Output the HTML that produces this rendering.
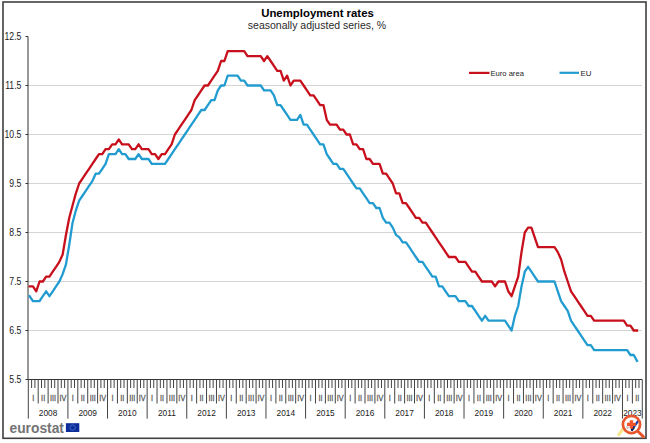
<!DOCTYPE html>
<html><head><meta charset="utf-8"><style>
html,body{margin:0;padding:0;background:#fff;width:650px;height:443px;overflow:hidden;}
svg{display:block;font-family:"Liberation Sans",sans-serif;}
</style></head><body>
<svg width="650" height="443" viewBox="0 0 650 443">
<rect x="3" y="2" width="643" height="436.3" fill="none" stroke="#404040" stroke-width="1.6"/>
<text x="317.5" y="17" text-anchor="middle" font-weight="bold" font-size="11.4" fill="#000">Unemployment rates</text>
<text x="317" y="29" text-anchor="middle" font-size="10.5" fill="#2a2a2a">seasonally adjusted series, %</text>
<line x1="28" y1="330.5" x2="642" y2="330.5" stroke="#d4d4d4" stroke-width="1"/>
<line x1="28" y1="281.5" x2="642" y2="281.5" stroke="#d4d4d4" stroke-width="1"/>
<line x1="28" y1="232.5" x2="642" y2="232.5" stroke="#d4d4d4" stroke-width="1"/>
<line x1="28" y1="183.5" x2="642" y2="183.5" stroke="#d4d4d4" stroke-width="1"/>
<line x1="28" y1="134.5" x2="642" y2="134.5" stroke="#d4d4d4" stroke-width="1"/>
<line x1="28" y1="85.5" x2="642" y2="85.5" stroke="#d4d4d4" stroke-width="1"/>
<line x1="25.5" y1="379.5" x2="28" y2="379.5" stroke="#333" stroke-width="1"/>
<text transform="translate(21.4,382.60) scale(0.86,1)" text-anchor="end" font-size="10.1" fill="#1a1a1a">5.5</text>
<line x1="25.5" y1="330.5" x2="28" y2="330.5" stroke="#333" stroke-width="1"/>
<text transform="translate(21.4,333.60) scale(0.86,1)" text-anchor="end" font-size="10.1" fill="#1a1a1a">6.5</text>
<line x1="25.5" y1="281.5" x2="28" y2="281.5" stroke="#333" stroke-width="1"/>
<text transform="translate(21.4,284.60) scale(0.86,1)" text-anchor="end" font-size="10.1" fill="#1a1a1a">7.5</text>
<line x1="25.5" y1="232.5" x2="28" y2="232.5" stroke="#333" stroke-width="1"/>
<text transform="translate(21.4,235.60) scale(0.86,1)" text-anchor="end" font-size="10.1" fill="#1a1a1a">8.5</text>
<line x1="25.5" y1="183.5" x2="28" y2="183.5" stroke="#333" stroke-width="1"/>
<text transform="translate(21.4,186.60) scale(0.86,1)" text-anchor="end" font-size="10.1" fill="#1a1a1a">9.5</text>
<line x1="25.5" y1="134.5" x2="28" y2="134.5" stroke="#333" stroke-width="1"/>
<text transform="translate(21.4,137.60) scale(0.86,1)" text-anchor="end" font-size="10.1" fill="#1a1a1a">10.5</text>
<line x1="25.5" y1="85.5" x2="28" y2="85.5" stroke="#333" stroke-width="1"/>
<text transform="translate(21.4,88.60) scale(0.86,1)" text-anchor="end" font-size="10.1" fill="#1a1a1a">11.5</text>
<line x1="25.5" y1="36.5" x2="28" y2="36.5" stroke="#333" stroke-width="1"/>
<text transform="translate(21.4,39.60) scale(0.86,1)" text-anchor="end" font-size="10.1" fill="#1a1a1a">12.5</text>
<line x1="28" y1="36.5" x2="28" y2="379.5" stroke="#333" stroke-width="1"/>
<line x1="28" y1="379.5" x2="642.2" y2="379.5" stroke="#333" stroke-width="1"/>
<line x1="28.30" y1="379.5" x2="28.30" y2="418.6" stroke="#444" stroke-width="1"/>
<line x1="31.60" y1="379.5" x2="31.60" y2="388" stroke="#444" stroke-width="1"/>
<line x1="34.90" y1="379.5" x2="34.90" y2="388" stroke="#444" stroke-width="1"/>
<line x1="38.20" y1="379.5" x2="38.20" y2="403.5" stroke="#444" stroke-width="1"/>
<line x1="41.50" y1="379.5" x2="41.50" y2="388" stroke="#444" stroke-width="1"/>
<line x1="44.81" y1="379.5" x2="44.81" y2="388" stroke="#444" stroke-width="1"/>
<line x1="48.11" y1="379.5" x2="48.11" y2="403.5" stroke="#444" stroke-width="1"/>
<line x1="51.41" y1="379.5" x2="51.41" y2="388" stroke="#444" stroke-width="1"/>
<line x1="54.71" y1="379.5" x2="54.71" y2="388" stroke="#444" stroke-width="1"/>
<line x1="58.01" y1="379.5" x2="58.01" y2="403.5" stroke="#444" stroke-width="1"/>
<line x1="61.31" y1="379.5" x2="61.31" y2="388" stroke="#444" stroke-width="1"/>
<line x1="64.61" y1="379.5" x2="64.61" y2="388" stroke="#444" stroke-width="1"/>
<line x1="67.91" y1="379.5" x2="67.91" y2="418.6" stroke="#444" stroke-width="1"/>
<line x1="71.21" y1="379.5" x2="71.21" y2="388" stroke="#444" stroke-width="1"/>
<line x1="74.51" y1="379.5" x2="74.51" y2="388" stroke="#444" stroke-width="1"/>
<line x1="77.81" y1="379.5" x2="77.81" y2="403.5" stroke="#444" stroke-width="1"/>
<line x1="81.12" y1="379.5" x2="81.12" y2="388" stroke="#444" stroke-width="1"/>
<line x1="84.42" y1="379.5" x2="84.42" y2="388" stroke="#444" stroke-width="1"/>
<line x1="87.72" y1="379.5" x2="87.72" y2="403.5" stroke="#444" stroke-width="1"/>
<line x1="91.02" y1="379.5" x2="91.02" y2="388" stroke="#444" stroke-width="1"/>
<line x1="94.32" y1="379.5" x2="94.32" y2="388" stroke="#444" stroke-width="1"/>
<line x1="97.62" y1="379.5" x2="97.62" y2="403.5" stroke="#444" stroke-width="1"/>
<line x1="100.92" y1="379.5" x2="100.92" y2="388" stroke="#444" stroke-width="1"/>
<line x1="104.22" y1="379.5" x2="104.22" y2="388" stroke="#444" stroke-width="1"/>
<line x1="107.52" y1="379.5" x2="107.52" y2="418.6" stroke="#444" stroke-width="1"/>
<line x1="110.83" y1="379.5" x2="110.83" y2="388" stroke="#444" stroke-width="1"/>
<line x1="114.13" y1="379.5" x2="114.13" y2="388" stroke="#444" stroke-width="1"/>
<line x1="117.43" y1="379.5" x2="117.43" y2="403.5" stroke="#444" stroke-width="1"/>
<line x1="120.73" y1="379.5" x2="120.73" y2="388" stroke="#444" stroke-width="1"/>
<line x1="124.03" y1="379.5" x2="124.03" y2="388" stroke="#444" stroke-width="1"/>
<line x1="127.33" y1="379.5" x2="127.33" y2="403.5" stroke="#444" stroke-width="1"/>
<line x1="130.63" y1="379.5" x2="130.63" y2="388" stroke="#444" stroke-width="1"/>
<line x1="133.93" y1="379.5" x2="133.93" y2="388" stroke="#444" stroke-width="1"/>
<line x1="137.23" y1="379.5" x2="137.23" y2="403.5" stroke="#444" stroke-width="1"/>
<line x1="140.53" y1="379.5" x2="140.53" y2="388" stroke="#444" stroke-width="1"/>
<line x1="143.84" y1="379.5" x2="143.84" y2="388" stroke="#444" stroke-width="1"/>
<line x1="147.14" y1="379.5" x2="147.14" y2="418.6" stroke="#444" stroke-width="1"/>
<line x1="150.44" y1="379.5" x2="150.44" y2="388" stroke="#444" stroke-width="1"/>
<line x1="153.74" y1="379.5" x2="153.74" y2="388" stroke="#444" stroke-width="1"/>
<line x1="157.04" y1="379.5" x2="157.04" y2="403.5" stroke="#444" stroke-width="1"/>
<line x1="160.34" y1="379.5" x2="160.34" y2="388" stroke="#444" stroke-width="1"/>
<line x1="163.64" y1="379.5" x2="163.64" y2="388" stroke="#444" stroke-width="1"/>
<line x1="166.94" y1="379.5" x2="166.94" y2="403.5" stroke="#444" stroke-width="1"/>
<line x1="170.24" y1="379.5" x2="170.24" y2="388" stroke="#444" stroke-width="1"/>
<line x1="173.54" y1="379.5" x2="173.54" y2="388" stroke="#444" stroke-width="1"/>
<line x1="176.85" y1="379.5" x2="176.85" y2="403.5" stroke="#444" stroke-width="1"/>
<line x1="180.15" y1="379.5" x2="180.15" y2="388" stroke="#444" stroke-width="1"/>
<line x1="183.45" y1="379.5" x2="183.45" y2="388" stroke="#444" stroke-width="1"/>
<line x1="186.75" y1="379.5" x2="186.75" y2="418.6" stroke="#444" stroke-width="1"/>
<line x1="190.05" y1="379.5" x2="190.05" y2="388" stroke="#444" stroke-width="1"/>
<line x1="193.35" y1="379.5" x2="193.35" y2="388" stroke="#444" stroke-width="1"/>
<line x1="196.65" y1="379.5" x2="196.65" y2="403.5" stroke="#444" stroke-width="1"/>
<line x1="199.95" y1="379.5" x2="199.95" y2="388" stroke="#444" stroke-width="1"/>
<line x1="203.25" y1="379.5" x2="203.25" y2="388" stroke="#444" stroke-width="1"/>
<line x1="206.55" y1="379.5" x2="206.55" y2="403.5" stroke="#444" stroke-width="1"/>
<line x1="209.86" y1="379.5" x2="209.86" y2="388" stroke="#444" stroke-width="1"/>
<line x1="213.16" y1="379.5" x2="213.16" y2="388" stroke="#444" stroke-width="1"/>
<line x1="216.46" y1="379.5" x2="216.46" y2="403.5" stroke="#444" stroke-width="1"/>
<line x1="219.76" y1="379.5" x2="219.76" y2="388" stroke="#444" stroke-width="1"/>
<line x1="223.06" y1="379.5" x2="223.06" y2="388" stroke="#444" stroke-width="1"/>
<line x1="226.36" y1="379.5" x2="226.36" y2="418.6" stroke="#444" stroke-width="1"/>
<line x1="229.66" y1="379.5" x2="229.66" y2="388" stroke="#444" stroke-width="1"/>
<line x1="232.96" y1="379.5" x2="232.96" y2="388" stroke="#444" stroke-width="1"/>
<line x1="236.26" y1="379.5" x2="236.26" y2="403.5" stroke="#444" stroke-width="1"/>
<line x1="239.56" y1="379.5" x2="239.56" y2="388" stroke="#444" stroke-width="1"/>
<line x1="242.87" y1="379.5" x2="242.87" y2="388" stroke="#444" stroke-width="1"/>
<line x1="246.17" y1="379.5" x2="246.17" y2="403.5" stroke="#444" stroke-width="1"/>
<line x1="249.47" y1="379.5" x2="249.47" y2="388" stroke="#444" stroke-width="1"/>
<line x1="252.77" y1="379.5" x2="252.77" y2="388" stroke="#444" stroke-width="1"/>
<line x1="256.07" y1="379.5" x2="256.07" y2="403.5" stroke="#444" stroke-width="1"/>
<line x1="259.37" y1="379.5" x2="259.37" y2="388" stroke="#444" stroke-width="1"/>
<line x1="262.67" y1="379.5" x2="262.67" y2="388" stroke="#444" stroke-width="1"/>
<line x1="265.97" y1="379.5" x2="265.97" y2="418.6" stroke="#444" stroke-width="1"/>
<line x1="269.27" y1="379.5" x2="269.27" y2="388" stroke="#444" stroke-width="1"/>
<line x1="272.57" y1="379.5" x2="272.57" y2="388" stroke="#444" stroke-width="1"/>
<line x1="275.88" y1="379.5" x2="275.88" y2="403.5" stroke="#444" stroke-width="1"/>
<line x1="279.18" y1="379.5" x2="279.18" y2="388" stroke="#444" stroke-width="1"/>
<line x1="282.48" y1="379.5" x2="282.48" y2="388" stroke="#444" stroke-width="1"/>
<line x1="285.78" y1="379.5" x2="285.78" y2="403.5" stroke="#444" stroke-width="1"/>
<line x1="289.08" y1="379.5" x2="289.08" y2="388" stroke="#444" stroke-width="1"/>
<line x1="292.38" y1="379.5" x2="292.38" y2="388" stroke="#444" stroke-width="1"/>
<line x1="295.68" y1="379.5" x2="295.68" y2="403.5" stroke="#444" stroke-width="1"/>
<line x1="298.98" y1="379.5" x2="298.98" y2="388" stroke="#444" stroke-width="1"/>
<line x1="302.28" y1="379.5" x2="302.28" y2="388" stroke="#444" stroke-width="1"/>
<line x1="305.58" y1="379.5" x2="305.58" y2="418.6" stroke="#444" stroke-width="1"/>
<line x1="308.89" y1="379.5" x2="308.89" y2="388" stroke="#444" stroke-width="1"/>
<line x1="312.19" y1="379.5" x2="312.19" y2="388" stroke="#444" stroke-width="1"/>
<line x1="315.49" y1="379.5" x2="315.49" y2="403.5" stroke="#444" stroke-width="1"/>
<line x1="318.79" y1="379.5" x2="318.79" y2="388" stroke="#444" stroke-width="1"/>
<line x1="322.09" y1="379.5" x2="322.09" y2="388" stroke="#444" stroke-width="1"/>
<line x1="325.39" y1="379.5" x2="325.39" y2="403.5" stroke="#444" stroke-width="1"/>
<line x1="328.69" y1="379.5" x2="328.69" y2="388" stroke="#444" stroke-width="1"/>
<line x1="331.99" y1="379.5" x2="331.99" y2="388" stroke="#444" stroke-width="1"/>
<line x1="335.29" y1="379.5" x2="335.29" y2="403.5" stroke="#444" stroke-width="1"/>
<line x1="338.59" y1="379.5" x2="338.59" y2="388" stroke="#444" stroke-width="1"/>
<line x1="341.90" y1="379.5" x2="341.90" y2="388" stroke="#444" stroke-width="1"/>
<line x1="345.20" y1="379.5" x2="345.20" y2="418.6" stroke="#444" stroke-width="1"/>
<line x1="348.50" y1="379.5" x2="348.50" y2="388" stroke="#444" stroke-width="1"/>
<line x1="351.80" y1="379.5" x2="351.80" y2="388" stroke="#444" stroke-width="1"/>
<line x1="355.10" y1="379.5" x2="355.10" y2="403.5" stroke="#444" stroke-width="1"/>
<line x1="358.40" y1="379.5" x2="358.40" y2="388" stroke="#444" stroke-width="1"/>
<line x1="361.70" y1="379.5" x2="361.70" y2="388" stroke="#444" stroke-width="1"/>
<line x1="365.00" y1="379.5" x2="365.00" y2="403.5" stroke="#444" stroke-width="1"/>
<line x1="368.30" y1="379.5" x2="368.30" y2="388" stroke="#444" stroke-width="1"/>
<line x1="371.60" y1="379.5" x2="371.60" y2="388" stroke="#444" stroke-width="1"/>
<line x1="374.91" y1="379.5" x2="374.91" y2="403.5" stroke="#444" stroke-width="1"/>
<line x1="378.21" y1="379.5" x2="378.21" y2="388" stroke="#444" stroke-width="1"/>
<line x1="381.51" y1="379.5" x2="381.51" y2="388" stroke="#444" stroke-width="1"/>
<line x1="384.81" y1="379.5" x2="384.81" y2="418.6" stroke="#444" stroke-width="1"/>
<line x1="388.11" y1="379.5" x2="388.11" y2="388" stroke="#444" stroke-width="1"/>
<line x1="391.41" y1="379.5" x2="391.41" y2="388" stroke="#444" stroke-width="1"/>
<line x1="394.71" y1="379.5" x2="394.71" y2="403.5" stroke="#444" stroke-width="1"/>
<line x1="398.01" y1="379.5" x2="398.01" y2="388" stroke="#444" stroke-width="1"/>
<line x1="401.31" y1="379.5" x2="401.31" y2="388" stroke="#444" stroke-width="1"/>
<line x1="404.61" y1="379.5" x2="404.61" y2="403.5" stroke="#444" stroke-width="1"/>
<line x1="407.92" y1="379.5" x2="407.92" y2="388" stroke="#444" stroke-width="1"/>
<line x1="411.22" y1="379.5" x2="411.22" y2="388" stroke="#444" stroke-width="1"/>
<line x1="414.52" y1="379.5" x2="414.52" y2="403.5" stroke="#444" stroke-width="1"/>
<line x1="417.82" y1="379.5" x2="417.82" y2="388" stroke="#444" stroke-width="1"/>
<line x1="421.12" y1="379.5" x2="421.12" y2="388" stroke="#444" stroke-width="1"/>
<line x1="424.42" y1="379.5" x2="424.42" y2="418.6" stroke="#444" stroke-width="1"/>
<line x1="427.72" y1="379.5" x2="427.72" y2="388" stroke="#444" stroke-width="1"/>
<line x1="431.02" y1="379.5" x2="431.02" y2="388" stroke="#444" stroke-width="1"/>
<line x1="434.32" y1="379.5" x2="434.32" y2="403.5" stroke="#444" stroke-width="1"/>
<line x1="437.62" y1="379.5" x2="437.62" y2="388" stroke="#444" stroke-width="1"/>
<line x1="440.93" y1="379.5" x2="440.93" y2="388" stroke="#444" stroke-width="1"/>
<line x1="444.23" y1="379.5" x2="444.23" y2="403.5" stroke="#444" stroke-width="1"/>
<line x1="447.53" y1="379.5" x2="447.53" y2="388" stroke="#444" stroke-width="1"/>
<line x1="450.83" y1="379.5" x2="450.83" y2="388" stroke="#444" stroke-width="1"/>
<line x1="454.13" y1="379.5" x2="454.13" y2="403.5" stroke="#444" stroke-width="1"/>
<line x1="457.43" y1="379.5" x2="457.43" y2="388" stroke="#444" stroke-width="1"/>
<line x1="460.73" y1="379.5" x2="460.73" y2="388" stroke="#444" stroke-width="1"/>
<line x1="464.03" y1="379.5" x2="464.03" y2="418.6" stroke="#444" stroke-width="1"/>
<line x1="467.33" y1="379.5" x2="467.33" y2="388" stroke="#444" stroke-width="1"/>
<line x1="470.63" y1="379.5" x2="470.63" y2="388" stroke="#444" stroke-width="1"/>
<line x1="473.94" y1="379.5" x2="473.94" y2="403.5" stroke="#444" stroke-width="1"/>
<line x1="477.24" y1="379.5" x2="477.24" y2="388" stroke="#444" stroke-width="1"/>
<line x1="480.54" y1="379.5" x2="480.54" y2="388" stroke="#444" stroke-width="1"/>
<line x1="483.84" y1="379.5" x2="483.84" y2="403.5" stroke="#444" stroke-width="1"/>
<line x1="487.14" y1="379.5" x2="487.14" y2="388" stroke="#444" stroke-width="1"/>
<line x1="490.44" y1="379.5" x2="490.44" y2="388" stroke="#444" stroke-width="1"/>
<line x1="493.74" y1="379.5" x2="493.74" y2="403.5" stroke="#444" stroke-width="1"/>
<line x1="497.04" y1="379.5" x2="497.04" y2="388" stroke="#444" stroke-width="1"/>
<line x1="500.34" y1="379.5" x2="500.34" y2="388" stroke="#444" stroke-width="1"/>
<line x1="503.64" y1="379.5" x2="503.64" y2="418.6" stroke="#444" stroke-width="1"/>
<line x1="506.95" y1="379.5" x2="506.95" y2="388" stroke="#444" stroke-width="1"/>
<line x1="510.25" y1="379.5" x2="510.25" y2="388" stroke="#444" stroke-width="1"/>
<line x1="513.55" y1="379.5" x2="513.55" y2="403.5" stroke="#444" stroke-width="1"/>
<line x1="516.85" y1="379.5" x2="516.85" y2="388" stroke="#444" stroke-width="1"/>
<line x1="520.15" y1="379.5" x2="520.15" y2="388" stroke="#444" stroke-width="1"/>
<line x1="523.45" y1="379.5" x2="523.45" y2="403.5" stroke="#444" stroke-width="1"/>
<line x1="526.75" y1="379.5" x2="526.75" y2="388" stroke="#444" stroke-width="1"/>
<line x1="530.05" y1="379.5" x2="530.05" y2="388" stroke="#444" stroke-width="1"/>
<line x1="533.35" y1="379.5" x2="533.35" y2="403.5" stroke="#444" stroke-width="1"/>
<line x1="536.65" y1="379.5" x2="536.65" y2="388" stroke="#444" stroke-width="1"/>
<line x1="539.96" y1="379.5" x2="539.96" y2="388" stroke="#444" stroke-width="1"/>
<line x1="543.26" y1="379.5" x2="543.26" y2="418.6" stroke="#444" stroke-width="1"/>
<line x1="546.56" y1="379.5" x2="546.56" y2="388" stroke="#444" stroke-width="1"/>
<line x1="549.86" y1="379.5" x2="549.86" y2="388" stroke="#444" stroke-width="1"/>
<line x1="553.16" y1="379.5" x2="553.16" y2="403.5" stroke="#444" stroke-width="1"/>
<line x1="556.46" y1="379.5" x2="556.46" y2="388" stroke="#444" stroke-width="1"/>
<line x1="559.76" y1="379.5" x2="559.76" y2="388" stroke="#444" stroke-width="1"/>
<line x1="563.06" y1="379.5" x2="563.06" y2="403.5" stroke="#444" stroke-width="1"/>
<line x1="566.36" y1="379.5" x2="566.36" y2="388" stroke="#444" stroke-width="1"/>
<line x1="569.66" y1="379.5" x2="569.66" y2="388" stroke="#444" stroke-width="1"/>
<line x1="572.97" y1="379.5" x2="572.97" y2="403.5" stroke="#444" stroke-width="1"/>
<line x1="576.27" y1="379.5" x2="576.27" y2="388" stroke="#444" stroke-width="1"/>
<line x1="579.57" y1="379.5" x2="579.57" y2="388" stroke="#444" stroke-width="1"/>
<line x1="582.87" y1="379.5" x2="582.87" y2="418.6" stroke="#444" stroke-width="1"/>
<line x1="586.17" y1="379.5" x2="586.17" y2="388" stroke="#444" stroke-width="1"/>
<line x1="589.47" y1="379.5" x2="589.47" y2="388" stroke="#444" stroke-width="1"/>
<line x1="592.77" y1="379.5" x2="592.77" y2="403.5" stroke="#444" stroke-width="1"/>
<line x1="596.07" y1="379.5" x2="596.07" y2="388" stroke="#444" stroke-width="1"/>
<line x1="599.37" y1="379.5" x2="599.37" y2="388" stroke="#444" stroke-width="1"/>
<line x1="602.67" y1="379.5" x2="602.67" y2="403.5" stroke="#444" stroke-width="1"/>
<line x1="605.98" y1="379.5" x2="605.98" y2="388" stroke="#444" stroke-width="1"/>
<line x1="609.28" y1="379.5" x2="609.28" y2="388" stroke="#444" stroke-width="1"/>
<line x1="612.58" y1="379.5" x2="612.58" y2="403.5" stroke="#444" stroke-width="1"/>
<line x1="615.88" y1="379.5" x2="615.88" y2="388" stroke="#444" stroke-width="1"/>
<line x1="619.18" y1="379.5" x2="619.18" y2="388" stroke="#444" stroke-width="1"/>
<line x1="622.48" y1="379.5" x2="622.48" y2="418.6" stroke="#444" stroke-width="1"/>
<line x1="625.78" y1="379.5" x2="625.78" y2="388" stroke="#444" stroke-width="1"/>
<line x1="629.08" y1="379.5" x2="629.08" y2="388" stroke="#444" stroke-width="1"/>
<line x1="632.38" y1="379.5" x2="632.38" y2="403.5" stroke="#444" stroke-width="1"/>
<line x1="635.68" y1="379.5" x2="635.68" y2="388" stroke="#444" stroke-width="1"/>
<line x1="638.99" y1="379.5" x2="638.99" y2="388" stroke="#444" stroke-width="1"/>
<line x1="642.29" y1="379.5" x2="642.29" y2="418.6" stroke="#444" stroke-width="1"/>
<text transform="translate(33.25,400.8) scale(0.86,1)" text-anchor="middle" font-size="8.5" fill="#555" stroke="#555" stroke-width="0.25">I</text>
<text transform="translate(43.15,400.8) scale(0.86,1)" text-anchor="middle" font-size="8.5" fill="#555" stroke="#555" stroke-width="0.25">II</text>
<text transform="translate(53.06,400.8) scale(0.86,1)" text-anchor="middle" font-size="8.5" fill="#555" stroke="#555" stroke-width="0.25">III</text>
<text transform="translate(62.96,400.8) scale(0.86,1)" text-anchor="middle" font-size="8.5" fill="#555" stroke="#555" stroke-width="0.25">IV</text>
<text transform="translate(72.86,400.8) scale(0.86,1)" text-anchor="middle" font-size="8.5" fill="#555" stroke="#555" stroke-width="0.25">I</text>
<text transform="translate(82.77,400.8) scale(0.86,1)" text-anchor="middle" font-size="8.5" fill="#555" stroke="#555" stroke-width="0.25">II</text>
<text transform="translate(92.67,400.8) scale(0.86,1)" text-anchor="middle" font-size="8.5" fill="#555" stroke="#555" stroke-width="0.25">III</text>
<text transform="translate(102.57,400.8) scale(0.86,1)" text-anchor="middle" font-size="8.5" fill="#555" stroke="#555" stroke-width="0.25">IV</text>
<text transform="translate(112.48,400.8) scale(0.86,1)" text-anchor="middle" font-size="8.5" fill="#555" stroke="#555" stroke-width="0.25">I</text>
<text transform="translate(122.38,400.8) scale(0.86,1)" text-anchor="middle" font-size="8.5" fill="#555" stroke="#555" stroke-width="0.25">II</text>
<text transform="translate(132.28,400.8) scale(0.86,1)" text-anchor="middle" font-size="8.5" fill="#555" stroke="#555" stroke-width="0.25">III</text>
<text transform="translate(142.18,400.8) scale(0.86,1)" text-anchor="middle" font-size="8.5" fill="#555" stroke="#555" stroke-width="0.25">IV</text>
<text transform="translate(152.09,400.8) scale(0.86,1)" text-anchor="middle" font-size="8.5" fill="#555" stroke="#555" stroke-width="0.25">I</text>
<text transform="translate(161.99,400.8) scale(0.86,1)" text-anchor="middle" font-size="8.5" fill="#555" stroke="#555" stroke-width="0.25">II</text>
<text transform="translate(171.89,400.8) scale(0.86,1)" text-anchor="middle" font-size="8.5" fill="#555" stroke="#555" stroke-width="0.25">III</text>
<text transform="translate(181.80,400.8) scale(0.86,1)" text-anchor="middle" font-size="8.5" fill="#555" stroke="#555" stroke-width="0.25">IV</text>
<text transform="translate(191.70,400.8) scale(0.86,1)" text-anchor="middle" font-size="8.5" fill="#555" stroke="#555" stroke-width="0.25">I</text>
<text transform="translate(201.60,400.8) scale(0.86,1)" text-anchor="middle" font-size="8.5" fill="#555" stroke="#555" stroke-width="0.25">II</text>
<text transform="translate(211.51,400.8) scale(0.86,1)" text-anchor="middle" font-size="8.5" fill="#555" stroke="#555" stroke-width="0.25">III</text>
<text transform="translate(221.41,400.8) scale(0.86,1)" text-anchor="middle" font-size="8.5" fill="#555" stroke="#555" stroke-width="0.25">IV</text>
<text transform="translate(231.31,400.8) scale(0.86,1)" text-anchor="middle" font-size="8.5" fill="#555" stroke="#555" stroke-width="0.25">I</text>
<text transform="translate(241.21,400.8) scale(0.86,1)" text-anchor="middle" font-size="8.5" fill="#555" stroke="#555" stroke-width="0.25">II</text>
<text transform="translate(251.12,400.8) scale(0.86,1)" text-anchor="middle" font-size="8.5" fill="#555" stroke="#555" stroke-width="0.25">III</text>
<text transform="translate(261.02,400.8) scale(0.86,1)" text-anchor="middle" font-size="8.5" fill="#555" stroke="#555" stroke-width="0.25">IV</text>
<text transform="translate(270.92,400.8) scale(0.86,1)" text-anchor="middle" font-size="8.5" fill="#555" stroke="#555" stroke-width="0.25">I</text>
<text transform="translate(280.83,400.8) scale(0.86,1)" text-anchor="middle" font-size="8.5" fill="#555" stroke="#555" stroke-width="0.25">II</text>
<text transform="translate(290.73,400.8) scale(0.86,1)" text-anchor="middle" font-size="8.5" fill="#555" stroke="#555" stroke-width="0.25">III</text>
<text transform="translate(300.63,400.8) scale(0.86,1)" text-anchor="middle" font-size="8.5" fill="#555" stroke="#555" stroke-width="0.25">IV</text>
<text transform="translate(310.54,400.8) scale(0.86,1)" text-anchor="middle" font-size="8.5" fill="#555" stroke="#555" stroke-width="0.25">I</text>
<text transform="translate(320.44,400.8) scale(0.86,1)" text-anchor="middle" font-size="8.5" fill="#555" stroke="#555" stroke-width="0.25">II</text>
<text transform="translate(330.34,400.8) scale(0.86,1)" text-anchor="middle" font-size="8.5" fill="#555" stroke="#555" stroke-width="0.25">III</text>
<text transform="translate(340.24,400.8) scale(0.86,1)" text-anchor="middle" font-size="8.5" fill="#555" stroke="#555" stroke-width="0.25">IV</text>
<text transform="translate(350.15,400.8) scale(0.86,1)" text-anchor="middle" font-size="8.5" fill="#555" stroke="#555" stroke-width="0.25">I</text>
<text transform="translate(360.05,400.8) scale(0.86,1)" text-anchor="middle" font-size="8.5" fill="#555" stroke="#555" stroke-width="0.25">II</text>
<text transform="translate(369.95,400.8) scale(0.86,1)" text-anchor="middle" font-size="8.5" fill="#555" stroke="#555" stroke-width="0.25">III</text>
<text transform="translate(379.86,400.8) scale(0.86,1)" text-anchor="middle" font-size="8.5" fill="#555" stroke="#555" stroke-width="0.25">IV</text>
<text transform="translate(389.76,400.8) scale(0.86,1)" text-anchor="middle" font-size="8.5" fill="#555" stroke="#555" stroke-width="0.25">I</text>
<text transform="translate(399.66,400.8) scale(0.86,1)" text-anchor="middle" font-size="8.5" fill="#555" stroke="#555" stroke-width="0.25">II</text>
<text transform="translate(409.57,400.8) scale(0.86,1)" text-anchor="middle" font-size="8.5" fill="#555" stroke="#555" stroke-width="0.25">III</text>
<text transform="translate(419.47,400.8) scale(0.86,1)" text-anchor="middle" font-size="8.5" fill="#555" stroke="#555" stroke-width="0.25">IV</text>
<text transform="translate(429.37,400.8) scale(0.86,1)" text-anchor="middle" font-size="8.5" fill="#555" stroke="#555" stroke-width="0.25">I</text>
<text transform="translate(439.27,400.8) scale(0.86,1)" text-anchor="middle" font-size="8.5" fill="#555" stroke="#555" stroke-width="0.25">II</text>
<text transform="translate(449.18,400.8) scale(0.86,1)" text-anchor="middle" font-size="8.5" fill="#555" stroke="#555" stroke-width="0.25">III</text>
<text transform="translate(459.08,400.8) scale(0.86,1)" text-anchor="middle" font-size="8.5" fill="#555" stroke="#555" stroke-width="0.25">IV</text>
<text transform="translate(468.98,400.8) scale(0.86,1)" text-anchor="middle" font-size="8.5" fill="#555" stroke="#555" stroke-width="0.25">I</text>
<text transform="translate(478.89,400.8) scale(0.86,1)" text-anchor="middle" font-size="8.5" fill="#555" stroke="#555" stroke-width="0.25">II</text>
<text transform="translate(488.79,400.8) scale(0.86,1)" text-anchor="middle" font-size="8.5" fill="#555" stroke="#555" stroke-width="0.25">III</text>
<text transform="translate(498.69,400.8) scale(0.86,1)" text-anchor="middle" font-size="8.5" fill="#555" stroke="#555" stroke-width="0.25">IV</text>
<text transform="translate(508.60,400.8) scale(0.86,1)" text-anchor="middle" font-size="8.5" fill="#555" stroke="#555" stroke-width="0.25">I</text>
<text transform="translate(518.50,400.8) scale(0.86,1)" text-anchor="middle" font-size="8.5" fill="#555" stroke="#555" stroke-width="0.25">II</text>
<text transform="translate(528.40,400.8) scale(0.86,1)" text-anchor="middle" font-size="8.5" fill="#555" stroke="#555" stroke-width="0.25">III</text>
<text transform="translate(538.30,400.8) scale(0.86,1)" text-anchor="middle" font-size="8.5" fill="#555" stroke="#555" stroke-width="0.25">IV</text>
<text transform="translate(548.21,400.8) scale(0.86,1)" text-anchor="middle" font-size="8.5" fill="#555" stroke="#555" stroke-width="0.25">I</text>
<text transform="translate(558.11,400.8) scale(0.86,1)" text-anchor="middle" font-size="8.5" fill="#555" stroke="#555" stroke-width="0.25">II</text>
<text transform="translate(568.01,400.8) scale(0.86,1)" text-anchor="middle" font-size="8.5" fill="#555" stroke="#555" stroke-width="0.25">III</text>
<text transform="translate(577.92,400.8) scale(0.86,1)" text-anchor="middle" font-size="8.5" fill="#555" stroke="#555" stroke-width="0.25">IV</text>
<text transform="translate(587.82,400.8) scale(0.86,1)" text-anchor="middle" font-size="8.5" fill="#555" stroke="#555" stroke-width="0.25">I</text>
<text transform="translate(597.72,400.8) scale(0.86,1)" text-anchor="middle" font-size="8.5" fill="#555" stroke="#555" stroke-width="0.25">II</text>
<text transform="translate(607.63,400.8) scale(0.86,1)" text-anchor="middle" font-size="8.5" fill="#555" stroke="#555" stroke-width="0.25">III</text>
<text transform="translate(617.53,400.8) scale(0.86,1)" text-anchor="middle" font-size="8.5" fill="#555" stroke="#555" stroke-width="0.25">IV</text>
<text transform="translate(627.43,400.8) scale(0.86,1)" text-anchor="middle" font-size="8.5" fill="#555" stroke="#555" stroke-width="0.25">I</text>
<text transform="translate(637.33,400.8) scale(0.86,1)" text-anchor="middle" font-size="8.5" fill="#555" stroke="#555" stroke-width="0.25">II</text>
<text transform="translate(48.11,415.8) scale(0.86,1)" text-anchor="middle" font-size="9.7" fill="#222">2008</text>
<text transform="translate(87.72,415.8) scale(0.86,1)" text-anchor="middle" font-size="9.7" fill="#222">2009</text>
<text transform="translate(127.33,415.8) scale(0.86,1)" text-anchor="middle" font-size="9.7" fill="#222">2010</text>
<text transform="translate(166.94,415.8) scale(0.86,1)" text-anchor="middle" font-size="9.7" fill="#222">2011</text>
<text transform="translate(206.55,415.8) scale(0.86,1)" text-anchor="middle" font-size="9.7" fill="#222">2012</text>
<text transform="translate(246.17,415.8) scale(0.86,1)" text-anchor="middle" font-size="9.7" fill="#222">2013</text>
<text transform="translate(285.78,415.8) scale(0.86,1)" text-anchor="middle" font-size="9.7" fill="#222">2014</text>
<text transform="translate(325.39,415.8) scale(0.86,1)" text-anchor="middle" font-size="9.7" fill="#222">2015</text>
<text transform="translate(365.00,415.8) scale(0.86,1)" text-anchor="middle" font-size="9.7" fill="#222">2016</text>
<text transform="translate(404.61,415.8) scale(0.86,1)" text-anchor="middle" font-size="9.7" fill="#222">2017</text>
<text transform="translate(444.23,415.8) scale(0.86,1)" text-anchor="middle" font-size="9.7" fill="#222">2018</text>
<text transform="translate(483.84,415.8) scale(0.86,1)" text-anchor="middle" font-size="9.7" fill="#222">2019</text>
<text transform="translate(523.45,415.8) scale(0.86,1)" text-anchor="middle" font-size="9.7" fill="#222">2020</text>
<text transform="translate(563.06,415.8) scale(0.86,1)" text-anchor="middle" font-size="9.7" fill="#222">2021</text>
<text transform="translate(602.67,415.8) scale(0.86,1)" text-anchor="middle" font-size="9.7" fill="#222">2022</text>
<text transform="translate(632.40,415.8) scale(0.86,1)" text-anchor="middle" font-size="9.7" fill="#222">2023</text>
<polyline points="29.65,296.20 32.95,301.10 36.25,301.10 39.55,301.10 42.85,296.20 46.16,291.30 49.46,296.20 52.76,291.30 56.06,286.40 59.36,281.50 62.66,274.15 65.96,264.35 69.26,244.75 72.56,222.70 75.86,210.45 79.17,200.65 82.47,195.75 85.77,190.85 89.07,185.95 92.37,181.05 95.67,173.70 98.97,173.70 102.27,168.80 105.57,163.90 108.87,154.10 112.18,154.10 115.48,154.10 118.78,149.20 122.08,154.10 125.38,154.10 128.68,159.00 131.98,159.00 135.28,159.00 138.58,154.10 141.88,159.00 145.19,159.00 148.49,159.00 151.79,163.90 155.09,163.90 158.39,163.90 161.69,163.90 164.99,163.90 168.29,159.00 171.59,154.10 174.89,149.20 178.20,144.30 181.50,139.40 184.80,134.50 188.10,129.60 191.40,124.70 194.70,119.80 198.00,114.90 201.30,110.00 204.60,110.00 207.90,105.10 211.21,100.20 214.51,100.20 217.81,90.40 221.11,85.50 224.41,85.50 227.71,75.70 231.01,75.70 234.31,75.70 237.61,75.70 240.91,80.60 244.22,80.60 247.52,85.50 250.82,85.50 254.12,85.50 257.42,85.50 260.72,85.50 264.02,90.40 267.32,90.40 270.62,90.40 273.92,95.30 277.23,105.10 280.53,105.10 283.83,110.00 287.13,114.90 290.43,119.80 293.73,119.80 297.03,119.80 300.33,114.90 303.63,124.70 306.93,124.70 310.24,129.60 313.54,134.50 316.84,139.40 320.14,144.30 323.44,144.30 326.74,154.10 330.04,159.00 333.34,163.90 336.64,163.90 339.94,168.80 343.25,168.80 346.55,173.70 349.85,178.60 353.15,183.50 356.45,188.40 359.75,188.40 363.05,193.30 366.35,198.20 369.65,203.10 372.95,203.10 376.26,208.00 379.56,208.00 382.86,217.80 386.16,222.70 389.46,222.70 392.76,227.60 396.06,234.95 399.36,237.40 402.66,242.30 405.96,242.30 409.27,247.20 412.57,252.10 415.87,257.00 419.17,261.90 422.47,261.90 425.77,266.80 429.07,271.70 432.37,276.60 435.67,276.60 438.97,286.40 442.28,286.40 445.58,291.30 448.88,296.20 452.18,296.20 455.48,296.20 458.78,301.10 462.08,301.10 465.38,301.10 468.68,306.00 471.98,306.00 475.29,310.90 478.59,315.80 481.89,320.70 485.19,315.80 488.49,320.70 491.79,320.70 495.09,320.70 498.39,320.70 501.69,320.70 504.99,320.70 508.30,325.60 511.60,330.50 514.90,315.80 518.20,306.00 521.50,286.40 524.80,271.70 528.10,266.80 531.40,271.70 534.70,276.60 538.00,281.50 541.31,281.50 544.61,281.50 547.91,281.50 551.21,281.50 554.51,281.50 557.81,291.30 561.11,301.10 564.41,306.00 567.71,310.90 571.01,320.70 574.32,325.60 577.62,330.50 580.92,335.40 584.22,340.30 587.52,345.20 590.82,345.20 594.12,350.10 597.42,350.10 600.72,350.10 604.02,350.10 607.33,350.10 610.63,350.10 613.93,350.10 617.23,350.10 620.53,350.10 623.83,350.10 627.13,350.10 630.43,355.00 633.73,355.00 637.03,360.88" fill="none" stroke="#229cd0" stroke-width="2.3" stroke-linejoin="round" stroke-linecap="square"/>
<polyline points="29.65,286.40 32.95,286.40 36.25,291.30 39.55,281.50 42.85,281.50 46.16,276.60 49.46,276.60 52.76,271.70 56.06,266.80 59.36,261.90 62.66,254.55 65.96,234.95 69.26,217.80 72.56,205.55 75.86,193.30 79.17,183.50 82.47,178.60 85.77,173.70 89.07,168.80 92.37,163.90 95.67,159.00 98.97,154.10 102.27,154.10 105.57,149.20 108.87,149.20 112.18,144.30 115.48,144.30 118.78,139.40 122.08,144.30 125.38,144.30 128.68,144.30 131.98,149.20 135.28,149.20 138.58,144.30 141.88,149.20 145.19,149.20 148.49,149.20 151.79,154.10 155.09,154.10 158.39,159.00 161.69,154.10 164.99,154.10 168.29,149.20 171.59,144.30 174.89,134.50 178.20,129.60 181.50,124.70 184.80,119.80 188.10,114.90 191.40,110.00 194.70,100.20 198.00,95.30 201.30,90.40 204.60,85.50 207.90,85.50 211.21,80.60 214.51,75.70 217.81,70.80 221.11,61.00 224.41,61.00 227.71,51.20 231.01,51.20 234.31,51.20 237.61,51.20 240.91,51.20 244.22,51.20 247.52,56.10 250.82,56.10 254.12,56.10 257.42,56.10 260.72,56.10 264.02,61.00 267.32,56.10 270.62,61.00 273.92,65.90 277.23,70.80 280.53,70.80 283.83,80.60 287.13,75.70 290.43,85.50 293.73,80.60 297.03,80.60 300.33,80.60 303.63,85.50 306.93,90.40 310.24,95.30 313.54,95.30 316.84,100.20 320.14,105.10 323.44,105.10 326.74,119.80 330.04,124.70 333.34,124.70 336.64,124.70 339.94,129.60 343.25,129.60 346.55,134.50 349.85,134.50 353.15,144.30 356.45,144.30 359.75,149.20 363.05,149.20 366.35,159.00 369.65,159.00 372.95,163.90 376.26,163.90 379.56,163.90 382.86,173.70 386.16,173.70 389.46,178.60 392.76,183.50 396.06,193.30 399.36,193.30 402.66,203.10 405.96,203.10 409.27,208.00 412.57,212.90 415.87,217.80 419.17,217.80 422.47,222.70 425.77,222.70 429.07,227.60 432.37,232.50 435.67,237.40 438.97,242.30 442.28,247.20 445.58,252.10 448.88,257.00 452.18,257.00 455.48,257.00 458.78,261.90 462.08,261.90 465.38,261.90 468.68,266.80 471.98,271.70 475.29,271.70 478.59,276.60 481.89,281.50 485.19,281.50 488.49,281.50 491.79,281.50 495.09,286.40 498.39,281.50 501.69,281.50 504.99,281.50 508.30,291.30 511.60,296.20 514.90,286.40 518.20,276.60 521.50,252.10 524.80,232.50 528.10,227.60 531.40,227.60 534.70,237.40 538.00,247.20 541.31,247.20 544.61,247.20 547.91,247.20 551.21,247.20 554.51,247.20 557.81,252.10 561.11,259.45 564.41,271.70 567.71,281.50 571.01,291.30 574.32,296.20 577.62,301.10 580.92,306.00 584.22,310.90 587.52,315.80 590.82,315.80 594.12,320.70 597.42,320.70 600.72,320.70 604.02,320.70 607.33,320.70 610.63,320.70 613.93,320.70 617.23,320.70 620.53,320.70 623.83,320.70 627.13,325.60 630.43,325.60 633.73,330.50 637.03,330.50" fill="none" stroke="#c8101c" stroke-width="2.3" stroke-linejoin="round" stroke-linecap="square"/>
<line x1="469" y1="72.9" x2="489.5" y2="72.9" stroke="#c8101c" stroke-width="2.2"/>
<text x="490.5" y="75.9" font-size="7.6" fill="#222">Euro area</text>
<line x1="559.5" y1="72.8" x2="579" y2="72.8" stroke="#229cd0" stroke-width="2.2"/>
<text x="580.5" y="75.8" font-size="7.9" fill="#222">EU</text>
<text x="9.5" y="432.6" font-weight="bold" font-size="13.8" fill="#737373">eurostat</text>
<rect x="65.9" y="423.2" width="13.4" height="8.8" fill="#0c2c9a"/>
<circle cx="72.6" cy="427.6" r="2.7" fill="none" stroke="#4a74cc" stroke-width="0.8"/>
<path d="M618.8,434.5 L622.6,429.5" stroke="#f6e27a" stroke-width="3.2" stroke-linecap="round" opacity="0.85"/>
<circle cx="627.6" cy="427.6" r="1.4" fill="#c8c8c8"/>
<path d="M638,421.2 L632,429.6" stroke="#1f3fa8" stroke-width="2.3" fill="none" stroke-linecap="round"/>
<path d="M633.5,427.8 L632,429.8" stroke="#0d1a50" stroke-width="2.3" fill="none" stroke-linecap="round"/>
<path d="M627,424.4 h8.7 M631.4,420.2 v8.2" stroke="#f2532a" stroke-width="3.4"/>
<circle cx="631.5" cy="424.5" r="8.6" fill="none" stroke="#e8562c" stroke-width="2.7"/>
<line x1="637.6" y1="431" x2="643.3" y2="436.6" stroke="#e8562c" stroke-width="3" stroke-linecap="round"/>
</svg></body></html>
